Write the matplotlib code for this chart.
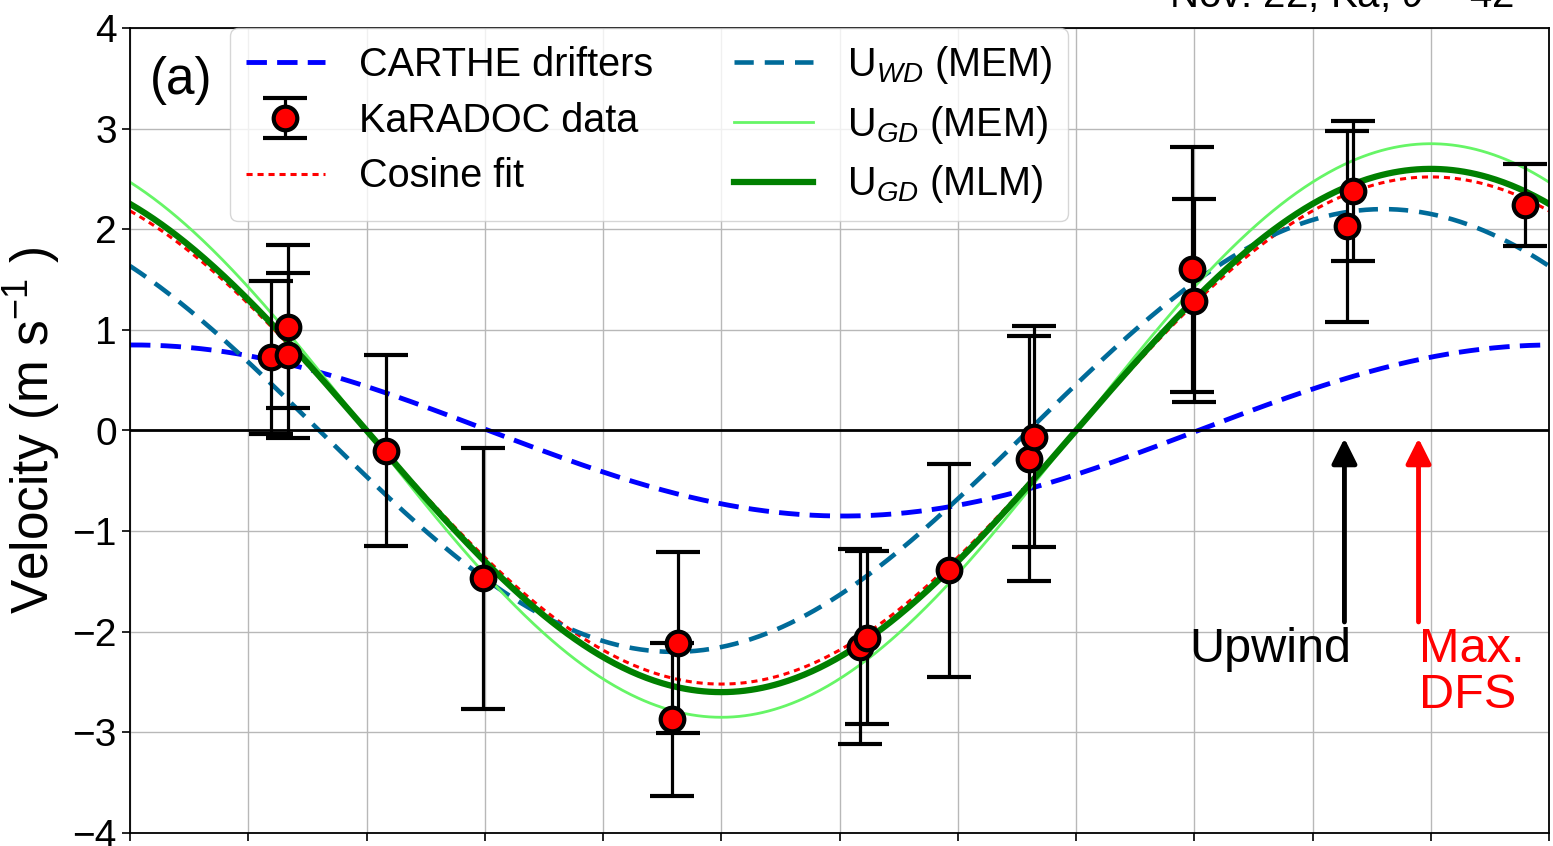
import numpy as np
import matplotlib
matplotlib.use("Agg")
import matplotlib.pyplot as plt

plt.rcParams['font.family'] = ['Liberation Sans', 'DejaVu Sans']
plt.rcParams['mathtext.fontset'] = 'custom'
plt.rcParams['mathtext.rm'] = 'Liberation Sans'
plt.rcParams['mathtext.it'] = 'Liberation Sans:italic'

# KaRADOC data: azimuth (deg), velocity (m/s), error (m/s)
phi_data = [35.8, 40.2, 40.2, 65.0, 89.5, 137.4, 139.1, 185.2, 186.9, 207.9,
            228.2, 229.3, 269.5, 270.0, 308.7, 310.3, 353.9]
vel_data = [0.73, 1.03, 0.75, -0.20, -1.47, -2.87, -2.11, -2.15, -2.06, -1.39,
            -0.28, -0.06, 1.60, 1.29, 2.03, 2.38, 2.24]
err_data = [0.76, 0.81, 0.82, 0.95, 1.30, 0.76, 0.90, 0.97, 0.86, 1.06,
            1.22, 1.10, 1.22, 1.01, 0.95, 0.70, 0.41]

# cosine curves: amplitude (m/s) and direction of maximum (deg)
curve_labels = ['CARTHE drifters', 'Cosine fit', r'U$_{WD}$ (MEM)',
                r'U$_{GD}$ (MEM)', r'U$_{GD}$ (MLM)']
curve_amp = [0.85, 2.52, 2.20, 2.85, 2.60]
curve_dir = [1.0, 330.0, 318.0, 330.0, 330.0]

upwind_dir = 308.1
maxdfs_dir = 326.9

fig = plt.figure(figsize=(15.53, 8.46), dpi=100)
ax = fig.add_axes([130/1553, 13/846, 1419/1553, 805/846])

phi = np.linspace(0, 360, 721)
styles = [dict(color='blue', ls=(0, (4.2, 2.1)), lw=3.5),
          dict(color='red', ls=(0, (2, 1.6)), lw=2.2),
          dict(color='#006b99', ls=(0, (4.2, 2.4)), lw=3.3),
          dict(color='#66f566', ls='-', lw=2),
          dict(color='green', ls='-', lw=4.5)]
handles = {}
for lab, a, d, st in zip(curve_labels, curve_amp, curve_dir, styles):
    h, = ax.plot(phi, a*np.cos(np.deg2rad(phi - d)), label=lab, **st)
    handles[lab] = h

eb = ax.errorbar(phi_data, vel_data, yerr=err_data, fmt='o', color='k',
                 mfc='red', mec='k', ms=17, mew=3, elinewidth=2.3,
                 capsize=15.5, capthick=3, zorder=5, label='KaRADOC data')

ax.axhline(0, color='k', lw=2)

ax.annotate('', xy=(upwind_dir, -0.05), xytext=(upwind_dir, -1.93),
            arrowprops=dict(arrowstyle='-|>', color='k', lw=3.5,
                            mutation_scale=38))
ax.annotate('', xy=(maxdfs_dir, -0.05), xytext=(maxdfs_dir, -1.93),
            arrowprops=dict(arrowstyle='-|>', color='red', lw=3.5,
                            mutation_scale=38))
ax.text(upwind_dir + 1.8, -1.95, 'Upwind', color='k', fontsize=35,
        ha='right', va='top')
ax.text(maxdfs_dir, -1.95, 'Max.\nDFS', color='red', fontsize=35,
        ha='left', va='top', linespacing=1.05)

ax.text(0.014, 0.965, '(a)', transform=ax.transAxes, fontsize=37,
        ha='left', va='top')

ax.set_xlim(0, 360)
ax.set_ylim(-4, 4)
ax.set_xticks(np.arange(0, 361, 30))
ax.set_yticks(np.arange(-4, 5, 1))
ax.tick_params(axis='both', labelsize=28, length=6, width=1.2)
ax.tick_params(axis='x', labelbottom=False)
ax.grid(True, color='#b8b8b8', lw=1)
ax.set_axisbelow(True)
for s in ax.spines.values():
    s.set_linewidth(1.3)
ax.set_ylabel(r'Velocity (m s$^{-1}$ )', fontsize=37, labelpad=7)

order = [handles['CARTHE drifters'], eb, handles['Cosine fit'],
         handles[r'U$_{WD}$ (MEM)'], handles[r'U$_{GD}$ (MEM)'],
         handles[r'U$_{GD}$ (MLM)']]
ax.legend(handles=order, labels=[h.get_label() for h in order], ncol=2,
          loc='upper left', bbox_to_anchor=(0.0705, 1.0), borderaxespad=0,
          fontsize=28.5, handlelength=2.0, handletextpad=0.85,
          labelspacing=0.45, columnspacing=2.05,
          framealpha=0.8, borderpad=0.4)

fig.text(1530/1553, 1 - 7/846, r'Nov. 22, Ka, $\theta$ = 42°', fontsize=29,
         ha='right', va='baseline')

fig.savefig('out.png', dpi=100)
